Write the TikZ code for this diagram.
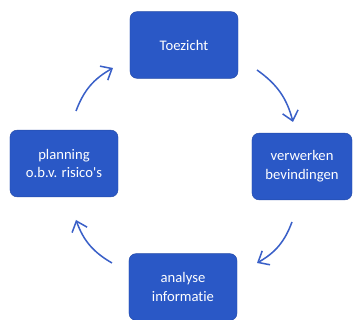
\documentclass[tikz,border=0pt]{standalone}
\usepackage{fontspec}
\setmainfont{Carlito}[Ligatures=NoCommon]
\usetikzlibrary{arrows.meta}
\definecolor{boxblue}{RGB}{42,88,198}
\definecolor{arrowblue}{RGB}{58,96,200}
\tikzset{stage/.style={draw=boxblue!85!black, fill=boxblue, rounded corners=6pt, text=white, align=center,
                       minimum width=3.24cm, minimum height=2cm, font=\fontsize{12.5}{16}\selectfont},
         cycle/.style={draw=arrowblue, line width=1.3pt, -{Straight Barb[length=2.8mm,width=4.8mm]}, bend left=20},
        }

\begin{document}
\begin{tikzpicture}[x=0.03cm,y=-0.03cm]
        \useasboundingbox (0,0) rectangle (355,320);
        \node[stage](toezicht)at(184,45){Toezicht};
        \node[stage,minimum width=3cm](verwerken)at(302,166.5){verwerken\\bevindingen};
        \node[stage](analyse)at(183,287){analyse\\informatie};
        \node[stage](planning)at(64,163.5){planning\\o.b.v. risico\textquotesingle s};

        \coordinate(a1)at(76,111);
        \coordinate(a2)at(113,68);
        \coordinate(b1)at(257,70);
        \coordinate(b2)at(293,122);
        \coordinate(c1)at(292,222);
        \coordinate(c2)at(257,263);
        \coordinate(d1)at(112,263);
        \coordinate(d2)at(76,220);

        \draw[cycle](a1) to (a2);
        \draw[cycle](b1) to (b2);
        \draw[cycle](c1) to (c2);
        \draw[cycle](d1) to (d2);
    \end{tikzpicture}
\end{document}
